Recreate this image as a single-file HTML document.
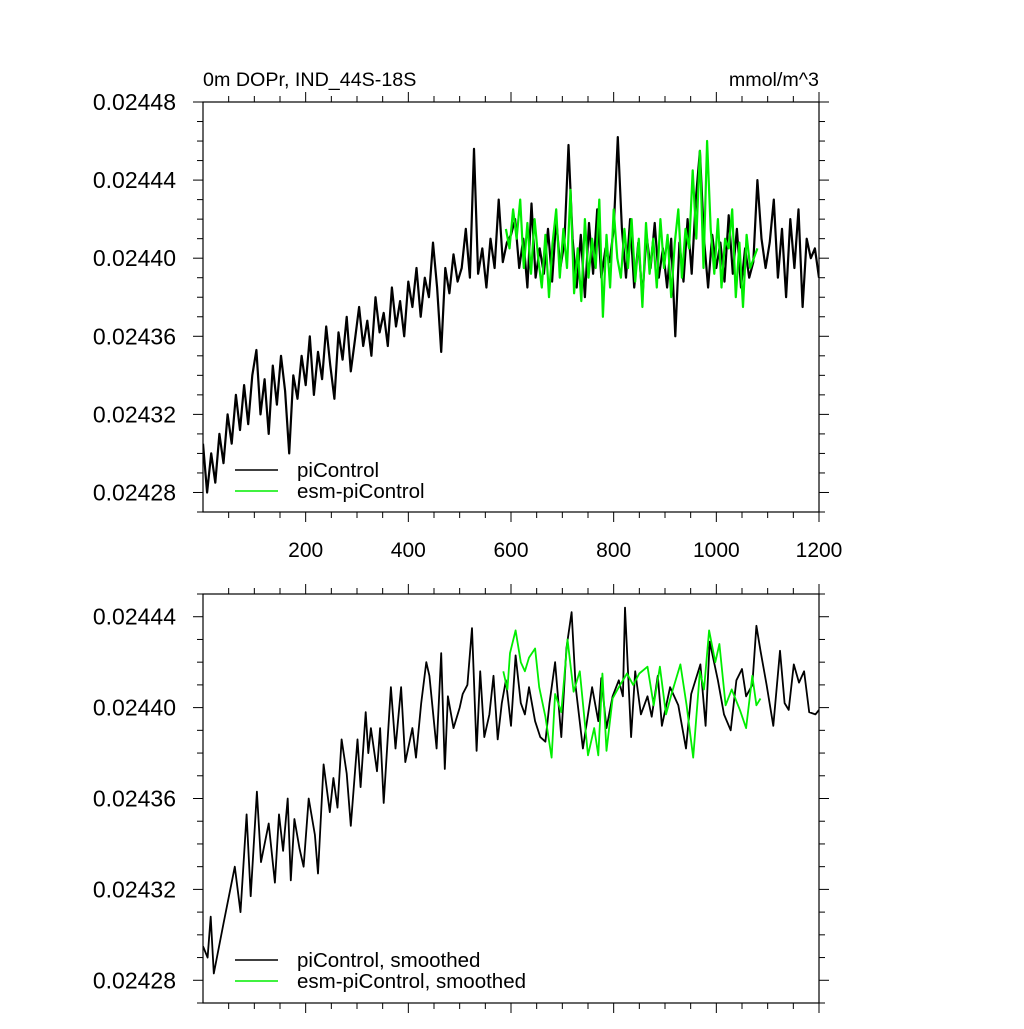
<!DOCTYPE html>
<html><head><meta charset="utf-8"><style>
body{margin:0;background:#fff}
svg text{font-family:"Liberation Sans",sans-serif;fill:#000}
</style></head><body>
<svg id="c" width="1024" height="1024" viewBox="0 0 1024 1024" xmlns="http://www.w3.org/2000/svg">
<defs>
<clipPath id="clipTop"><rect x="203" y="102" width="616" height="410"/></clipPath>
<clipPath id="clipBot"><rect x="203" y="594" width="616" height="409"/></clipPath>
</defs>
<text x="203" y="86" font-size="19.7">0m DOPr, IND_44S-18S</text>
<text x="819" y="86" font-size="19.7" text-anchor="end">mmol/m^3</text>
<g id="gTop"></g>
<g id="gBot"></g>
</svg>
<script>
// values are offsets from 0.02440 in units of 1e-6 mmol/m^3
const rawYearStart = 0, rawYearStep = 8;
const rawPiControl = [-95,-120,-100,-115,-90,-105,-80,-95,-70,-88,-65,-85,-60,
-47,-80,-62,-90,-55,-75,-50,-68,-100,-60,-72,-50,-65,
-40,-70,-48,-62,-35,-55,-72,-38,-52,-30,-58,-42,-25,
-45,-32,-50,-20,-38,-28,-45,-15,-35,-22,-40,-12,
-25,-5,-30,-10,-20,8,-15,-48,-5,-18,2,-12,
-5,15,-10,56,-8,5,-15,10,-5,30,-2,8,12,
20,-5,10,-15,28,-10,5,-8,15,-12,20,-5,8,
58,10,-15,12,-20,18,-8,25,-10,5,-2,15,
62,15,-10,20,-15,8,-20,12,-5,18,-10,5,-15,
10,-40,8,-12,20,-8,30,55,10,-15,12,-5,
8,-12,22,-8,15,-15,5,-10,-2,40,10,-5,8,
30,-10,15,-20,20,-5,25,-25,10,0,5,-10];
const rawEsmYearStart = 590, rawEsmYearStep = 7;
const rawEsm = [15,5,25,10,30,-5,18,-8,20,0,-15,12,-20,8,
25,-10,15,-5,35,-18,5,-22,20,-10,10,-5,30,-30,
12,-15,25,0,-10,15,-5,20,-12,10,-25,18,-8,10,
-15,20,-5,12,-20,8,25,-10,15,5,45,10,55,-5,
60,15,-8,20,-15,10,5,25,-20,8,-25,12,-5,0,5];
const smoothYears = [0,9,15,21,40,62,73,85,93,105,113,128,140,148,156,165,171,178,188,196,206,218,224,235,247,254,262,270,280,288,301,307,317,322,327,339,345,352,366,375,386,394,408,415,425,435,441,455,464,471,477,488,500,506,515,524,533,540,548,558,566,574,582,590,600,609,619,627,635,647,657,667,675,686,698,708,718,726,740,758,770,776,786,798,810,818,822,834,842,853,866,874,886,894,910,926,941,951,969,979,987,1003,1015,1028,1039,1050,1058,1070,1078,1086,1098,1111,1124,1133,1141,1151,1161,1171,1181,1193,1200];
const smoothPiControl = [-105,-110,-92,-117,-95,-70,-90,-47,-83,-37,-68,-51,-77,-47,-63,-40,-76,-49,-62,-70,-40,-56,-73,-25,-46,-31,-44,-14,-29,-52,-14,-35,-2,-20,-9,-28,-9,-42,9,-18,9,-24,-9,-22,2,20,14,-18,24,-27,5,-9,0,6,10,35,-19,16,-13,-3,14,-14,2,12,-8,23,2,-3,9,-6,-13,-15,2,20,-13,26,42,9,-18,9,-6,13,-9,5,12,5,44,-13,16,-3,5,-4,14,-8,9,1,-18,6,19,-8,29,12,-3,-10,12,17,5,10,36,25,10,-8,25,2,-1,19,11,16,-2,-3,-1];
const smoothEsmYears = [585,593,598,609,619,627,635,647,655,667,679,686,698,710,722,734,750,762,770,778,786,798,810,826,838,850,866,878,890,902,914,930,942,955,968,976,986,998,1006,1018,1030,1046,1058,1070,1078,1086];
const smoothEsm = [16,8,24,34,20,16,22,26,9,-4,-22,6,-2,30,7,16,-21,-9,-21,15,-19,4,9,15,10,15,18,1,18,-3,7,19,1,-22,16,8,34,20,28,1,8,-1,-9,14,1,4];
const topYTicks = ["0.02428","0.02432","0.02436","0.02440","0.02444","0.02448"];
const botYTicks = ["0.02428","0.02432","0.02436","0.02440","0.02444"];
const xTickLabels = ["200","400","600","800","1000","1200"];

const NS="http://www.w3.org/2000/svg";
function mk(parent,tag,attrs){const e=document.createElementNS(NS,tag);for(const k in attrs)e.setAttribute(k,attrs[k]);parent.appendChild(e);return e;}
const X0=203,X1=819;
const xs=y=>X0+(y/1200)*(X1-X0);
function panel(g,top,bot,vTop,vBot,clip,yTicks,showX,ser,legendY,legendLabels){
  const ys=v=>top+(vTop-v)/(vTop-vBot)*(bot-top);
  const box=mk(g,'rect',{x:X0,y:top,width:X1-X0,height:bot-top,fill:'none',stroke:'#000','stroke-width':1.2});
  
  
  for(let yr=50;yr<=1200;yr+=50){
    const maj=yr%200===0, L=maj?10:6, x=xs(yr);
    const t1=mk(g,'line',{x1:x,x2:x,y1:bot,y2:bot+L,stroke:'#000','stroke-width':1});
    
    
    const t2=mk(g,'line',{x1:x,x2:x,y1:top,y2:top-L,stroke:'#000','stroke-width':1});
    
    
  }
  if(showX){xTickLabels.forEach(s=>{const t=mk(g,'text',{x:xs(+s),y:bot+45,'font-size':21,'text-anchor':'middle'});t.textContent=s;
    
    });}
  for(let v=Math.ceil(vBot/10)*10;v<=vTop;v+=10){
    const maj=((v%40)+40)%40===0, L=maj?10:6, y=ys(v);
    const a=mk(g,'line',{x1:X0-L,x2:X0,y1:y,y2:y,stroke:'#000','stroke-width':1});
    
    
    const b=mk(g,'line',{x1:X1,x2:X1+L,y1:y,y2:y,stroke:'#000','stroke-width':1});
    
    
  }
  yTicks.forEach(s=>{const v=Math.round((parseFloat(s)-0.0244)*1e6);const t=mk(g,'text',{x:176,y:ys(v)+8,'font-size':23,'text-anchor':'end'});t.textContent=s;
    
    });
  ser.forEach(s=>{
    const d=s.yrs.map((yr,i)=>(i?'L':'M')+xs(yr).toFixed(1)+','+ys(s.vals[i]).toFixed(1)).join('');
    const p=mk(g,'path',{d:d,fill:'none',stroke:s.col,'stroke-width':s.w,'stroke-linejoin':'round','clip-path':'url(#'+clip+')'});
    
    
  });
  legendLabels.forEach((lab,i)=>{
    const y=legendY+i*21;
    const l=mk(g,'line',{x1:235,x2:278,y1:y,y2:y,stroke:i?'#00ee00':'#000','stroke-width':1.6});
    
    
    const t=mk(g,'text',{x:297,y:y+7,'font-size':20.5});t.textContent=lab;
    
    
  });
}
const rawYrs=rawPiControl.map((_,i)=>rawYearStart+i*rawYearStep);
const esmYrs=rawEsm.map((_,i)=>rawEsmYearStart+i*rawEsmYearStep);
panel(document.getElementById('gTop'),102,512,80,-130,'clipTop',topYTicks,true,
  [{yrs:rawYrs,vals:rawPiControl,col:'#000',name:'picontrol-line',w:2.2},{yrs:esmYrs,vals:rawEsm,col:'#00ee00',name:'esm-picontrol-line',w:2.2}],
  470,['piControl','esm-piControl']);
panel(document.getElementById('gBot'),594,1003,50,-130,'clipBot',botYTicks,false,
  [{yrs:smoothYears,vals:smoothPiControl,col:'#000',name:'picontrol-smoothed-line',w:1.8},{yrs:smoothEsmYears,vals:smoothEsm,col:'#00ee00',name:'esm-picontrol-smoothed-line',w:1.8}],
  960,['piControl, smoothed','esm-piControl, smoothed']);
</script>
</body></html>
